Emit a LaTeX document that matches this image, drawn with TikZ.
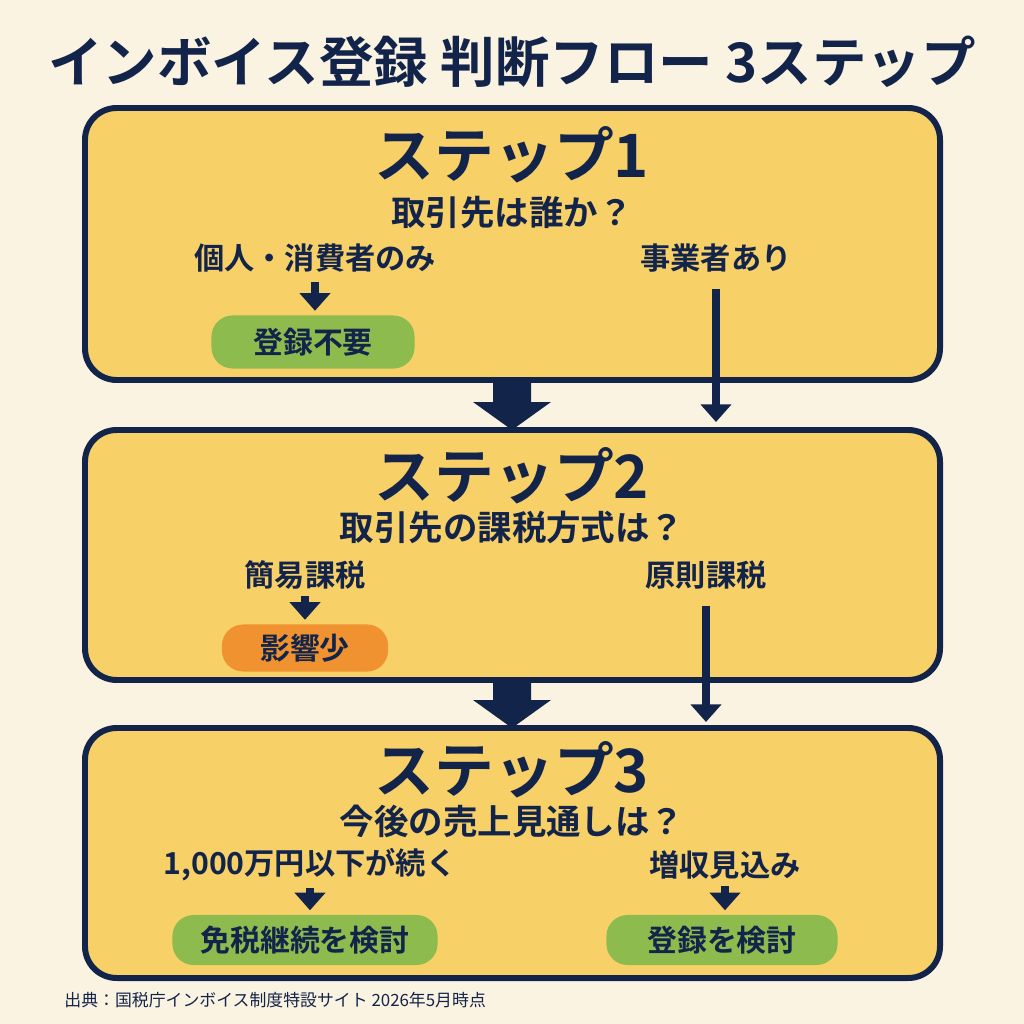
\documentclass[tikz,border=0pt]{standalone}
\usepackage{fontspec}
\setmainfont{Noto Sans CJK JP}
\newfontfamily\cjkbold{Noto Sans CJK JP Bold}
\usepackage{tikz}
\usetikzlibrary{arrows.meta}
\definecolor{navy}{HTML}{13244A}
\definecolor{cream}{HTML}{FBF3E1}
\definecolor{panel}{HTML}{F8D068}
\definecolor{okgreen}{HTML}{8DBB4E}
\definecolor{warnorange}{HTML}{EF922F}

\tikzset{
  panelbox/.style={draw=navy, line width=1.7pt, fill=panel, rounded corners=9pt},
  result/.style={rounded corners=6pt, inner sep=0pt, font=\cjkbold\fontsize{8.5}{8.5}\selectfont, text=navy},
  heading/.style={font=\cjkbold\fontsize{17}{17}\selectfont, text=navy},
  question/.style={font=\cjkbold\fontsize{9.8}{9.8}\selectfont, text=navy},
  branch/.style={font=\cjkbold\fontsize{8.6}{8.6}\selectfont, text=navy},
  down/.style={-{Triangle[length=5pt,width=8.5pt]}, line width=2pt, draw=navy},
  bigdown/.style={fill=navy}
}

\begin{document}
\begin{tikzpicture}[x=0.01cm, y=-0.01cm]
    % Background
    \fill[cream] (0,0) rectangle (1024,1024);
    \useasboundingbox (0,0) rectangle (1024,1024);

    % Title
    \node[font=\cjkbold\fontsize{15.5}{15.5}\selectfont, text=navy] (title) at (512,62) {インボイス登録 判断フロー 3ステップ};

    % Step panels
    \draw[panelbox] (85,108) rectangle (940,380);
    \draw[panelbox] (85,430) rectangle (940,680);
    \draw[panelbox] (85,728) rectangle (940,978);

    % Fat arrows between panels
    \foreach \top/\bot in {380/430, 680/728}
        \fill[bigdown] (493,\top) -- (531,\top) -- (531,\bot-28) -- (551,\bot-28)
            -- (512,\bot) -- (473,\bot-28) -- (493,\bot-28) -- cycle;

    % Step 1
    \node[heading] (h1) at (512,155) {ステップ1};
    \node[question] (q1) at (512,212) {取引先は誰か？};
    \node[branch] (b1l) at (315,258) {個人・消費者のみ};
    \node[branch] (b1r) at (716,258) {事業者あり};
    \node[result, fill=okgreen, minimum width=2.03cm, minimum height=0.53cm] (r1) at (313,342) {登録不要};
    \coordinate (e1) at (716,422);
    \draw[down] ([yshift=0.03cm]b1l.south) -- ([yshift=0.04cm]r1.north -| b1l.south);
    \draw[down] ([yshift=-0.04cm]b1r.south) -- (e1);

    % Step 2
    \node[heading] (h2) at (512,476) {ステップ2};
    \node[question] (q2) at (512,527) {取引先の課税方式は？};
    \node[branch] (b2l) at (305,575) {簡易課税};
    \node[branch] (b2r) at (706,575) {原則課税};
    \node[result, fill=warnorange, minimum width=1.66cm, minimum height=0.47cm] (r2) at (305,648) {影響少};
    \coordinate (e2) at (706,722);
    \draw[down] ([yshift=0.06cm]b2l.south) -- ([yshift=0.04cm]r2.north);
    \draw[down] ([yshift=-0.04cm]b2r.south) -- (e2);

    % Step 3
    \node[heading] (h3) at (512,770) {ステップ3};
    \node[question] (q3) at (512,821) {今後の売上見通しは？};
    \node[branch] (b3l) at (310,865) {1,000万円以下が続く};
    \node[branch] (b3r) at (725,865) {増収見込み};
    \node[result, fill=okgreen, minimum width=2.65cm, minimum height=0.5cm] (r3l) at (305,940) {免税継続を検討};
    \node[result, fill=okgreen, minimum width=2.31cm, minimum height=0.5cm] (r3r) at (722,940) {登録を検討};
    \draw[down] ([yshift=0.06cm]b3l.south) -- ([yshift=0.04cm]r3l.north -| b3l.south);
    \draw[down] ([yshift=0.06cm]b3r.south) -- ([yshift=0.04cm]r3r.north -| b3r.south);

    % Source note
    \node[anchor=west, font=\fontsize{4.8}{4.8}\selectfont, text=navy] (src) at (52,1000) {出典：国税庁インボイス制度特設サイト 2026年5月時点};
\end{tikzpicture}
\end{document}
